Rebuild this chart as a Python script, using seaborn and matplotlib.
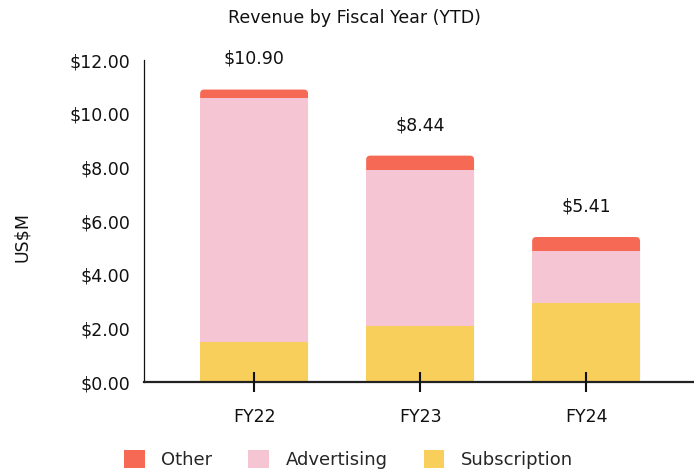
import matplotlib.pyplot as plt
import seaborn as sns
import pandas as pd
from matplotlib.patches import FancyBboxPatch

# Revenue by fiscal year, US$M
years = ["FY22", "FY23", "FY24"]
subscription = [1.49, 2.10, 2.96]
advertising = [9.09, 5.81, 1.94]
other = [0.32, 0.53, 0.51]
totals = [10.90, 8.44, 5.41]
y_ticks = [0, 2, 4, 6, 8, 10, 12]

colors = {"Other": "#F66A55", "Advertising": "#F5C5D3", "Subscription": "#F9CF5C"}

df = pd.DataFrame({"Year": years, "Subscription": subscription,
                   "Advertising": advertising, "Other": other})
df["Sub_top"] = df["Subscription"]
df["Adv_top"] = df["Subscription"] + df["Advertising"]
df["Total_top"] = df["Adv_top"] + df["Other"]

sns.set_style("white")
plt.rcParams["font.family"] = ["DejaVu Sans"]

fig = plt.figure(figsize=(6.94, 4.71), dpi=100)
ax = fig.add_axes([0.2075, 0.1883, 0.7925, 0.6843])

# stacked bars: draw cumulative heights from the back to the front
bar_kw = dict(width=0.65, saturation=1, linewidth=0, ax=ax)
sns.barplot(data=df, x="Year", y="Total_top", color=colors["Other"], **bar_kw)
n_other = len(ax.patches)
sns.barplot(data=df, x="Year", y="Adv_top", color=colors["Advertising"], **bar_kw)
sns.barplot(data=df, x="Year", y="Sub_top", color=colors["Subscription"], **bar_kw)

# round the top corners of the full-height bars
for p in list(ax.patches[:n_other]):
    x0, y0 = p.get_x(), p.get_y()
    w, h = p.get_width(), p.get_height()
    rb = FancyBboxPatch((x0, y0), w, h, boxstyle="round,pad=0,rounding_size=0.025",
                        mutation_aspect=6.2, fc=p.get_facecolor(), ec="none")
    p.set_visible(False)
    ax.add_patch(rb)
    rb.set_zorder(0.5)

# total labels above each bar
for i, t in enumerate(totals):
    ax.annotate(f"${t:.2f}", xy=(i, t), xytext=(0, 22), textcoords="offset points",
                ha="center", va="center", fontsize=12.5, color="#111111")

ax.set_axisbelow(False)
ax.set_ylim(0, 12)
ax.set_xlim(-0.663, 2.65)
ax.set_yticks(y_ticks)
ax.set_yticklabels([f"${v:.2f}" for v in y_ticks])
ax.tick_params(axis="y", left=False, length=0, pad=10, labelsize=12.5, labelcolor="#111111")
ax.tick_params(axis="x", bottom=True, direction="inout", length=15, width=1.5, color="#111111",
               pad=11, labelsize=12.5, labelcolor="#111111")

ax.set_xlabel("")
ax.set_ylabel("US$M", fontsize=12.5, color="#111111")
ax.yaxis.set_label_coords(-0.206, 0.45)

for s in ["top", "right"]:
    ax.spines[s].set_visible(False)
ax.spines["left"].set_color("#111111")
ax.spines["left"].set_linewidth(0.9)
ax.spines["bottom"].set_color("#222222")
ax.spines["bottom"].set_linewidth(1.6)
ax.grid(False)

fig.text(0.51, 0.962, "Revenue by Fiscal Year (YTD)", ha="center", va="center",
         fontsize=12.5, color="#111111")

handles = [plt.Rectangle((0, 0), 1, 1, fc=colors[k], ec="none")
           for k in ["Other", "Advertising", "Subscription"]]
fig.legend(handles, ["Other", "Advertising", "Subscription"], loc="center",
           bbox_to_anchor=(0.502, 0.025), ncol=3, frameon=False, fontsize=13,
           handlelength=1.15, handleheight=1.15, handletextpad=0.9, columnspacing=2.0)

fig.savefig("out.png", dpi=100)
